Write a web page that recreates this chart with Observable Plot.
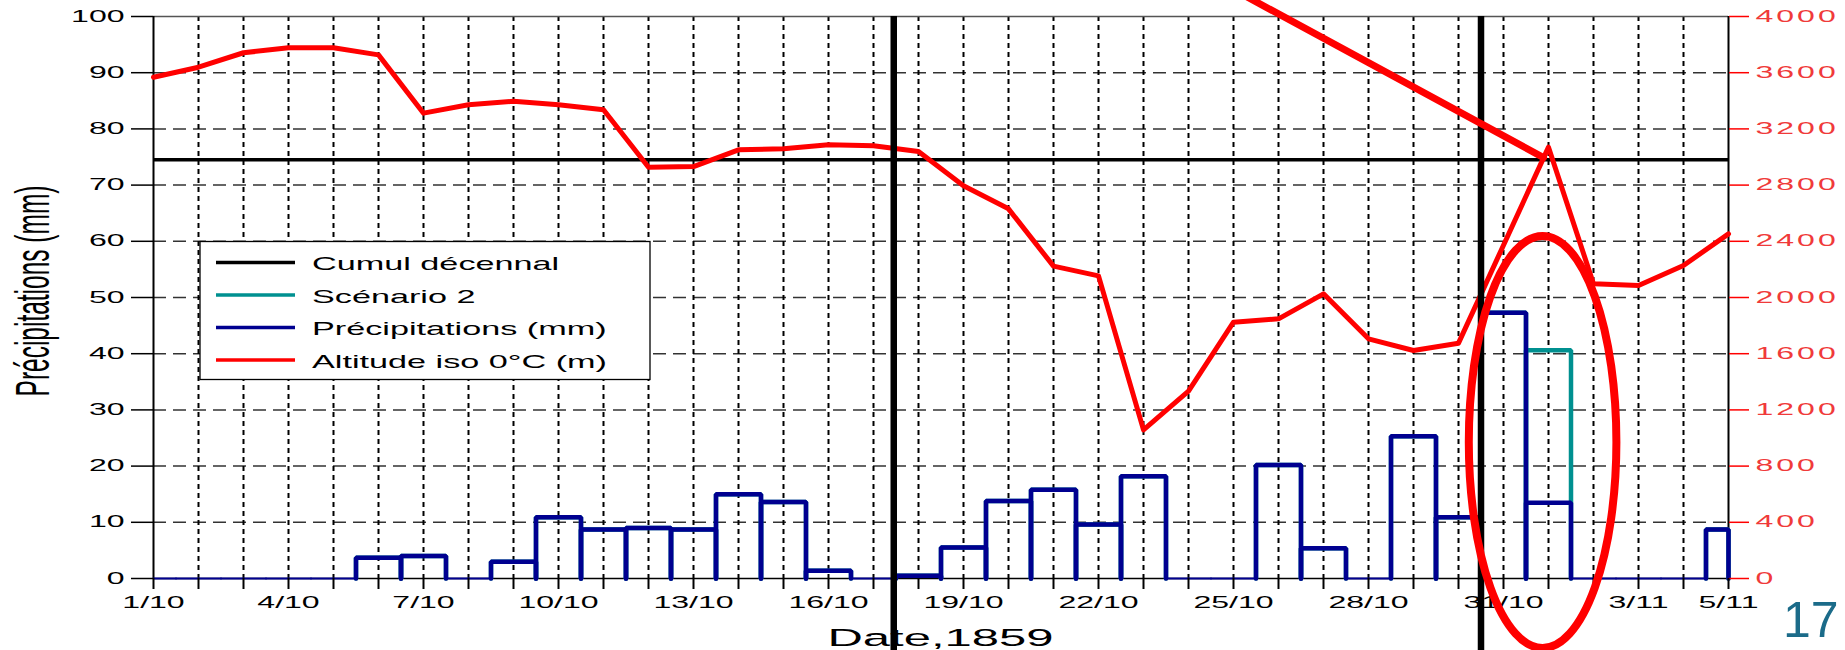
<!DOCTYPE html>
<html>
<head>
<meta charset="utf-8">
<script src="https://cdn.jsdelivr.net/npm/d3@7"></script>
<script src="https://cdn.jsdelivr.net/npm/@observablehq/plot@0.6"></script>
<style>
  html, body { margin: 0; padding: 0; background: #fff; }
  #chart { width: 1845px; height: 650px; position: relative; overflow: hidden; }
  #chart svg { display: block; }
</style>
</head>
<body>
<div id="chart"></div>
<script>
// ---------- data ----------
const dates = ["1/10","2/10","3/10","4/10","5/10","6/10","7/10","8/10","9/10","10/10",
  "11/10","12/10","13/10","14/10","15/10","16/10","17/10","18/10","19/10","20/10",
  "21/10","22/10","23/10","24/10","25/10","26/10","27/10","28/10","29/10","30/10",
  "31/10","1/11","2/11","3/11","4/11","5/11"];
// Précipitations (mm), one per day
const precip = [0,0,0,0,0,3.7,4.0,0,3.0,10.9,
  8.7,9.0,8.7,15.0,13.6,1.4,0,0.5,5.5,13.8,
  15.8,9.6,18.2,0,0,20.2,5.4,0,25.3,10.9,
  47.3,13.5,0,0,0,8.7];
// Scénario 2 (mm)
const scenario2 = [0,0,0,0,0,3.7,4.0,0,3.0,10.9,
  8.7,9.0,8.7,15.0,13.6,1.4,0,0.5,5.5,13.8,
  15.8,9.6,18.2,0,0,20.2,5.4,0,25.3,10.9,
  47.3,40.6,0,0,0,8.7];
// Altitude iso 0°C (m)
const isoAlt = [3568,3639,3742,3777,3777,3727,3312,3372,3397,3372,
  3336,2927,2932,3051,3058,3087,3080,3039,2795,2631,
  2223,2154,1058,1333,1824,1848,2026,1706,1623,1675,
  2372,3070,2097,2085,2228,2453];
const cumulDecennal = 74.5;
const mmTicks = [0,10,20,30,40,50,60,70,80,90,100];
const altTicks = [0,400,800,1200,1600,2000,2400,2800,3200,3600,4000];
const xTickLabels = ["1/10","4/10","7/10","10/10","13/10","16/10","19/10","22/10","25/10","28/10","31/10","3/11","5/11"];
const markerDays = [16.45, 29.5];
const arrowLine = [{day: 22.8, mm: 110}, {day: 30.89, mm: 74.9}];
const ellipseAnn = {day: 30.88, mm: 24.2, rDays: 1.64, rMm: 36.65};
const legendItems = [
  {label: "Cumul décennal", color: "#000000"},
  {label: "Scénario 2", color: "#009090"},
  {label: "Précipitations (mm)", color: "#000090"},
  {label: "Altitude iso 0°C (m)", color: "#ff0000"}
];

// ---------- derived ----------
const NAVY = "#000090", TEAL = "#009090", RED = "#ff0000";
const FONT = "'Liberation Sans', Arial, Helvetica, sans-serif";
const days = dates.map((d, i) => i);
const lastDay = days.length - 1;
const altPerMm = altTicks[altTicks.length - 1] / mmTicks[mmTicks.length - 1];
const labelDays = xTickLabels.map(l => dates.indexOf(l));

function barOutline(vals) {
  const pts = [];
  vals.forEach((v, i) => {
    if (!v) return;
    const x1 = Math.max(0, i - 0.5), x2 = Math.min(lastDay, i + 0.5);
    pts.push({s: i, x: x1, y: 0}, {s: i, x: x1, y: v}, {s: i, x: x2, y: v}, {s: i, x: x2, y: 0});
  });
  return pts;
}
function zeroSegs(vals) {
  const pts = [];
  vals.forEach((v, i) => {
    if (v) return;
    const x1 = Math.max(0, i - 0.5), x2 = Math.min(lastDay, i + 0.5);
    pts.push({s: i, x: x1, y: 0}, {s: i, x: x2, y: 0});
  });
  return pts;
}
const isoData = isoAlt.map((a, i) => ({x: i, y: a / altPerMm}));

const plot = Plot.plot({
  width: 1845, height: 650,
  marginLeft: 153, marginRight: 117, marginTop: 16, marginBottom: 72,
  x: {domain: [0, lastDay]},
  y: {domain: [0, 100]},
  style: {fontFamily: FONT, fontSize: "16px", background: "white", color: "black"},
  marks: [
    Plot.ruleY(mmTicks.filter(t => t > 0 && t < 100), {stroke: "#333", strokeWidth: 1.5, strokeDasharray: "13,7"}),
    Plot.ruleX(days.filter(d => d > 0 && d < lastDay), {stroke: "#000", strokeWidth: 2, strokeDasharray: "5,4"}),
    Plot.ruleY([100], {stroke: "#555", strokeWidth: 1.5}),
    Plot.ruleY([0], {stroke: "#000", strokeWidth: 1.5}),
    Plot.ruleX([0, lastDay], {stroke: "#000", strokeWidth: 2}),
    Plot.ruleY([cumulDecennal], {stroke: "#000", strokeWidth: 3.5}),
    Plot.line(barOutline(scenario2), {x: "x", y: "y", z: "s", stroke: TEAL, strokeWidth: 4.5, strokeLinejoin: "miter"}),
    Plot.line(zeroSegs(precip), {x: "x", y: "y", z: "s", stroke: NAVY, strokeWidth: 2}),
    Plot.line(barOutline(precip), {x: "x", y: "y", z: "s", stroke: NAVY, strokeWidth: 4.5, strokeLinejoin: "miter"}),
    Plot.line(isoData, {x: "x", y: "y", stroke: RED, strokeWidth: 5, strokeLinejoin: "round"}),
    Plot.ruleX(markerDays, {stroke: "#000", strokeWidth: 6.5, insetBottom: -72}),
    Plot.line(arrowLine, {x: "day", y: "mm", stroke: RED, strokeWidth: 7}),
    Plot.axisY({anchor: "left", ticks: mmTicks, tickSize: 22, tickPadding: 7, strokeWidth: 1.5, label: null}),
    Plot.axisY({anchor: "right", ticks: mmTicks, tickSize: 20, tickPadding: 7, strokeWidth: 1.5, color: RED, label: null,
      tickFormat: d => String(d * altPerMm)}),
    Plot.axisX({ticks: days, tickSize: 11, tickPadding: 0, strokeWidth: 2, tickFormat: () => "", label: null}),
    Plot.axisX({ticks: labelDays, tickSize: 0, tickPadding: 18, label: null,
      tickFormat: d => xTickLabels[labelDays.indexOf(d)]})
  ]
});

document.getElementById("chart").append(plot);
const svg = d3.select(plot);
const xs = plot.scale("x"), ys = plot.scale("y");

// stretch Plot's tick labels horizontally (the original is a widened figure)
svg.selectAll("text").each(function () {
  if (!this.textContent) return;
  const r = this.getBoundingClientRect();
  if (r.left > xs.apply(lastDay)) {
    this.setAttribute("letter-spacing", "1.5");
    this.setAttribute("fill", "#f03a3a");
  }
  const L = this.getComputedTextLength();
  if (L > 0) {
    this.setAttribute("textLength", (L * 2).toFixed(1));
    this.setAttribute("lengthAdjust", "spacingAndGlyphs");
  }
});

// ellipse annotation
svg.append("ellipse")
  .attr("cx", xs.apply(ellipseAnn.day))
  .attr("cy", ys.apply(ellipseAnn.mm))
  .attr("rx", xs.apply(ellipseAnn.day + ellipseAnn.rDays) - xs.apply(ellipseAnn.day))
  .attr("ry", ys.apply(ellipseAnn.mm - ellipseAnn.rMm) - ys.apply(ellipseAnn.mm))
  .attr("fill", "none").attr("stroke", RED).attr("stroke-width", 8);

// y-axis title
svg.append("text")
  .attr("transform", "translate(49,291) scale(2,1) rotate(-90)")
  .attr("text-anchor", "middle")
  .attr("font-family", FONT).attr("font-size", 24.5).attr("fill", "#000")
  .text("Précipitations (mm)");

// x-axis title
const xTitle = svg.append("text")
  .attr("x", (xs.apply(0) + xs.apply(lastDay)) / 2).attr("y", 646)
  .attr("text-anchor", "middle")
  .attr("font-family", FONT).attr("font-size", 24.5).attr("fill", "#000")
  .text("Date,1859");
{
  const n = xTitle.node(), L = n.getComputedTextLength();
  n.setAttribute("textLength", (L * 2).toFixed(1));
  n.setAttribute("lengthAdjust", "spacingAndGlyphs");
}

// slide number
svg.append("text")
  .attr("x", 1783).attr("y", 637)
  .attr("text-anchor", "start")
  .attr("font-family", FONT).attr("font-size", 50).attr("fill", "#1b6b89")
  .text("17");

// legend
const lg = svg.append("g").attr("text-anchor", "start");
lg.append("rect").attr("x", 200).attr("y", 241.5).attr("width", 450).attr("height", 138)
  .attr("fill", "#fff").attr("stroke", "#000").attr("stroke-width", 1.3);
legendItems.forEach((it, k) => {
  const y = 262.5 + k * 32.5;
  lg.append("line").attr("x1", 216).attr("x2", 295).attr("y1", y).attr("y2", y)
    .attr("stroke", it.color).attr("stroke-width", 3.5);
  const t = lg.append("text").attr("x", 312).attr("y", y + 1).attr("dy", "0.35em")
    .attr("text-anchor", "start")
    .attr("font-family", FONT).attr("font-size", 19).attr("fill", "#000").text(it.label);
  const n = t.node(), L = n.getComputedTextLength();
  n.setAttribute("textLength", (L * 1.8).toFixed(1));
  n.setAttribute("lengthAdjust", "spacingAndGlyphs");
});
</script>
</body>
</html>
